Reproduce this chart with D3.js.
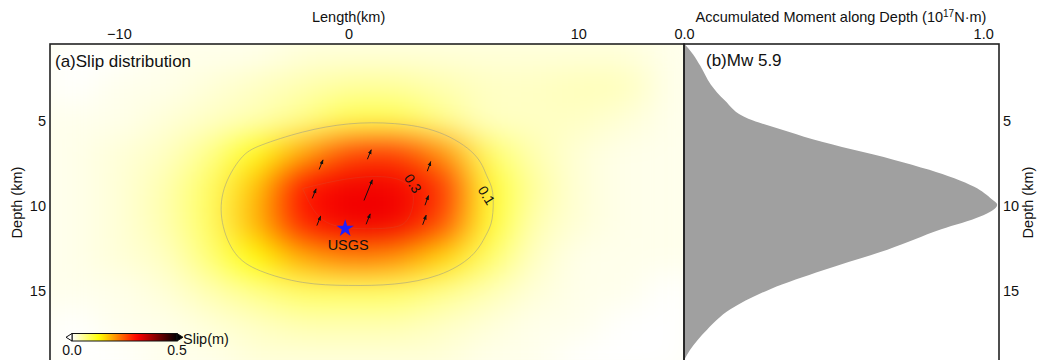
<!DOCTYPE html>
<html>
<head>
<meta charset="utf-8">
<script src="https://cdn.jsdelivr.net/npm/d3@7"></script>
<style>
  body { margin: 0; background: #fff; }
  svg text { font-family: "Liberation Sans", Arial, sans-serif; fill: #111; }
</style>
</head>
<body>
<svg id="chart" width="1042" height="360"></svg>
<script>
// slip grid (m), cell centers every 2 km along strike and depth
const lengths = [-12, -10, -8, -6, -4, -2, 0, 2, 4, 6, 8, 10, 12, 14];
const depths = [1, 3, 5, 7, 9, 11, 13, 15, 17, 19];
const slip = [
  [0.00, 0.00, 0.01, 0.01, 0.01, 0.02, 0.02, 0.02, 0.02, 0.02, 0.02, 0.02, 0.02, 0.01],
  [0.00, 0.01, 0.01, 0.02, 0.03, 0.04, 0.05, 0.05, 0.04, 0.03, 0.03, 0.035, 0.035, 0.01],
  [0.01, 0.01, 0.02, 0.03, 0.04, 0.06, 0.09, 0.09, 0.06, 0.03, 0.03, 0.03, 0.02, 0.01],
  [0.01, 0.02, 0.03, 0.06, 0.12, 0.19, 0.26, 0.27, 0.21, 0.08, 0.04, 0.02, 0.01, 0.01],
  [0.01, 0.02, 0.04, 0.08, 0.17, 0.30, 0.32, 0.32, 0.28, 0.11, 0.05, 0.02, 0.01, 0.01],
  [0.01, 0.02, 0.04, 0.08, 0.18, 0.29, 0.32, 0.32, 0.26, 0.11, 0.04, 0.02, 0.01, 0.01],
  [0.01, 0.02, 0.03, 0.07, 0.13, 0.19, 0.22, 0.21, 0.16, 0.08, 0.03, 0.01, 0.01, 0.01],
  [0.01, 0.01, 0.02, 0.04, 0.06, 0.08, 0.08, 0.08, 0.06, 0.04, 0.02, 0.01, 0.01, 0.00],
  [0.00, 0.01, 0.01, 0.02, 0.03, 0.04, 0.04, 0.04, 0.03, 0.02, 0.01, 0.01, 0.00, 0.00],
  [0.00, 0.00, 0.01, 0.01, 0.02, 0.02, 0.02, 0.02, 0.02, 0.01, 0.01, 0.00, 0.00, 0.00]
];
const contourLevels = [0.1, 0.3];

// rake vectors
const arrowL = [-1.2, 0.9, 3.5, -1.5, 0.85, 3.4, -1.3, 0.85, 3.3];
const arrowD = [7.6, 7.0, 7.7, 9.3, 9.1, 9.7, 10.9, 10.8, 10.85];
const arrowSlip = [0.12, 0.12, 0.12, 0.12, 0.26, 0.12, 0.12, 0.13, 0.12];
const arrowRake = [68, 68, 70, 68, 68, 70, 68, 68, 70];

// contour labels
const labelText = ["0.3", "0.1"];
const labelL = [2.8, 6.0];
const labelD = [8.7, 9.4];

// hypocenter
const hypoL = -0.15, hypoD = 11.35;

// accumulated moment along depth (1e17 N·m)
const momentDepth = [0.47, 1.1, 1.8, 2.9, 3.8, 4.9, 5.5, 6.1, 7.3, 7.9, 8.9, 9.65, 9.95, 10.65, 11.4, 12.6, 13.8, 14.9, 16.1, 17.3, 18.5, 19.1];
const momentValue = [0.0, 0.03, 0.055, 0.09, 0.135, 0.215, 0.32, 0.43, 0.70, 0.82, 0.97, 1.03, 1.047, 0.99, 0.86, 0.68, 0.465, 0.29, 0.155, 0.077, 0.02, 0.0];

const lengthTicks = [-10, 0, 10];
const depthTicks = [5, 10, 15];
const momentTicks = [0.0, 1.0];

const svg = d3.select("#chart");
const plotTop = 44, plotBottom = 362;
const leftX0 = 50, leftX1 = 684, rightX1 = 999;

const x = d3.scaleLinear().domain([-13, 14.6]).range([leftX0, leftX1]);
const y = d3.scaleLinear().domain([0.5, 19.2]).range([plotTop, plotBottom]);
const xm = d3.scaleLinear().domain([0, 1.053]).range([leftX1, rightX1]);

const color = d3.scaleLinear()
  .domain([0, 0.13, 0.31, 0.5])
  .range(["#ffffff", "#ffff00", "#ff0000", "#000000"])
  .clamp(true);

const defs = svg.append("defs");
defs.append("clipPath").attr("id", "clipA")
  .append("rect").attr("x", leftX0).attr("y", plotTop)
  .attr("width", leftX1 - leftX0).attr("height", plotBottom - plotTop);
defs.append("filter").attr("id", "smooth")
  .attr("x", "-10%").attr("y", "-10%").attr("width", "120%").attr("height", "120%")
  .attr("color-interpolation-filters", "sRGB")
  .append("feGaussianBlur").attr("stdDeviation", "20 15");
defs.append("marker").attr("id", "head")
  .attr("viewBox", "0 -3 7 6").attr("refX", 6).attr("refY", 0)
  .attr("markerUnits", "userSpaceOnUse")
  .attr("markerWidth", 5).attr("markerHeight", 5).attr("orient", "auto")
  .append("path").attr("d", "M0,-2.6L7,0L0,2.6Z").attr("fill", "#111");

// ---- panel (a): slip distribution
const panelA = svg.append("g").attr("clip-path", "url(#clipA)");
panelA.append("rect")
  .attr("x", leftX0).attr("y", plotTop)
  .attr("width", leftX1 - leftX0).attr("height", plotBottom - plotTop)
  .attr("fill", color(0.008));

const cells = [];
depths.forEach((d, j) => lengths.forEach((l, i) => cells.push({ l, d, v: slip[j][i] })));

panelA.append("g").attr("filter", "url(#smooth)")
  .selectAll("rect").data(cells).enter().append("rect")
  .attr("x", c => x(c.l - 1))
  .attr("y", c => y(c.d - 1))
  .attr("width", c => x(c.l + 1) - x(c.l - 1) + 0.5)
  .attr("height", c => y(c.d + 1) - y(c.d - 1) + 0.5)
  .attr("fill", c => color(c.v));

// contours from the grid
const contours = d3.contours()
  .size([lengths.length, depths.length])
  .thresholds(contourLevels)(slip.flat());
const gx = c => x(lengths[0] + (c - 0.5) * 2);
const gy = c => y(depths[0] + (c - 0.5) * 2);
const ringLine = d3.line().curve(d3.curveBasisClosed);
contours.forEach(ct => {
  ct.coordinates.forEach(poly => poly.forEach(ring => {
    const pts = ring.slice(0, -1).map(p => [gx(p[0]), gy(p[1])]);
    panelA.append("path")
      .attr("d", ringLine(pts))
      .attr("fill", "none")
      .attr("stroke", "#9c9c86")
      .attr("stroke-opacity", ct.value > 0.2 ? 0.15 : 0.7)
      .attr("stroke-width", 0.8);
  }));
});

labelText.forEach((t, i) => {
  panelA.append("text")
    .attr("transform", `translate(${x(labelL[i])},${y(labelD[i])}) rotate(58)`)
    .attr("text-anchor", "middle").attr("dy", "0.35em")
    .style("font-size", "14px")
    .text(t);
});

// rake arrows
arrowL.forEach((l, i) => {
  const len = arrowSlip[i] * 85;
  const a = arrowRake[i] * Math.PI / 180;
  const dx = len * Math.cos(a), dy = -len * Math.sin(a);
  const cx = x(l), cy = y(arrowD[i]);
  panelA.append("line")
    .attr("x1", cx - dx / 2).attr("y1", cy - dy / 2)
    .attr("x2", cx + dx / 2).attr("y2", cy + dy / 2)
    .attr("stroke", "#111").attr("stroke-width", 1)
    .attr("marker-end", "url(#head)");
});

// hypocenter star
panelA.append("path")
  .attr("d", d3.symbol().type(d3.symbolStar).size(95)())
  .attr("transform", `translate(${x(hypoL)},${y(hypoD)})`)
  .attr("fill", "#1f1fff");
panelA.append("text")
  .attr("x", x(hypoL) + 3).attr("y", y(hypoD) + 21)
  .attr("text-anchor", "middle")
  .style("font-size", "14.5px")
  .text("USGS");

panelA.append("text")
  .attr("x", 55).attr("y", 67)
  .style("font-size", "17px")
  .text("(a)Slip distribution");

// colorbar
const cbX = d3.scaleLinear().domain([0, 0.5]).range([72, 177]);
const grad = defs.append("linearGradient").attr("id", "cbar");
d3.range(0, 0.5001, 0.025).forEach(v => {
  grad.append("stop").attr("offset", (v / 0.5 * 100) + "%").attr("stop-color", color(v));
});
const cbY = 333.5, cbH = 7.5;
panelA.append("rect")
  .attr("x", cbX(0)).attr("y", cbY).attr("width", cbX(0.5) - cbX(0)).attr("height", cbH)
  .attr("fill", "url(#cbar)").attr("stroke", "#111").attr("stroke-width", 1);
panelA.append("path")
  .attr("d", `M${cbX(0)},${cbY}L${cbX(0) - 6},${cbY + cbH / 2}L${cbX(0)},${cbY + cbH}Z`)
  .attr("fill", "#fff").attr("stroke", "#111").attr("stroke-width", 1);
panelA.append("path")
  .attr("d", `M${cbX(0.5)},${cbY}L${cbX(0.5) + 6},${cbY + cbH / 2}L${cbX(0.5)},${cbY + cbH}Z`)
  .attr("fill", "#000").attr("stroke", "#111").attr("stroke-width", 1);
[0, 0.5].forEach(v => {
  panelA.append("text").attr("x", cbX(v)).attr("y", 355)
    .attr("text-anchor", "middle").style("font-size", "14px")
    .text(d3.format(".1f")(v));
});
panelA.append("text").attr("x", 183).attr("y", 344)
  .style("font-size", "14.5px").text("Slip(m)");

// ---- panel (b): accumulated moment
const area = d3.area()
  .y((d, i) => y(momentDepth[i]))
  .x0(xm(0))
  .x1((d, i) => xm(d))
  .curve(d3.curveMonotoneY);
svg.append("path")
  .datum(momentValue)
  .attr("d", area)
  .attr("fill", "#a0a0a0");

svg.append("text")
  .attr("x", 706).attr("y", 66)
  .style("font-size", "17px")
  .text("(b)Mw 5.9");

// ---- frames
[[leftX0, leftX1], [leftX1, rightX1]].forEach(([a, b]) => {
  svg.append("rect")
    .attr("x", a).attr("y", plotTop).attr("width", b - a).attr("height", plotBottom - plotTop)
    .attr("fill", "none").attr("stroke", "#222").attr("stroke-width", 1.6);
});

// ---- axes
const tickFont = "14.5px";
const axTop = svg.append("g").attr("transform", `translate(0,${plotTop})`)
  .call(d3.axisTop(x).tickValues(lengthTicks).tickSize(0).tickPadding(5).tickFormat(d3.format("d")));
const axTopM = svg.append("g").attr("transform", `translate(0,${plotTop})`)
  .call(d3.axisTop(xm).tickValues(momentTicks).tickSize(0).tickPadding(5).tickFormat(d3.format(".1f")));
const axLeft = svg.append("g").attr("transform", `translate(${leftX0},0)`)
  .call(d3.axisLeft(y).tickValues(depthTicks).tickSize(0).tickPadding(4));
const axRight = svg.append("g").attr("transform", `translate(${rightX1},0)`)
  .call(d3.axisRight(y).tickValues(depthTicks).tickSize(0).tickPadding(4));
[axTop, axTopM, axLeft, axRight].forEach(g => {
  g.select(".domain").remove();
  g.selectAll("text").style("font-size", tickFont)
    .style("font-family", "'Liberation Sans', Arial, sans-serif").attr("fill", "#111");
});

svg.append("text")
  .attr("x", x(0)).attr("y", 22).attr("text-anchor", "middle")
  .style("font-size", "14.5px").text("Length(km)");

const mTitle = svg.append("text")
  .attr("x", 841).attr("y", 22).attr("text-anchor", "middle")
  .style("font-size", "14.5px");
mTitle.append("tspan").text("Accumulated Moment along Depth (10");
mTitle.append("tspan").attr("dy", -5).style("font-size", "10px").text("17");
mTitle.append("tspan").attr("dy", 5).text("N·m)");

svg.append("text")
  .attr("transform", `translate(22,${y(10) - 3}) rotate(-90)`)
  .attr("text-anchor", "middle")
  .style("font-size", "14.5px").text("Depth (km)");
svg.append("text")
  .attr("transform", `translate(1033,${y(10) - 3}) rotate(-90)`)
  .attr("text-anchor", "middle")
  .style("font-size", "14.5px").text("Depth (km)");
</script>
</body>
</html>
